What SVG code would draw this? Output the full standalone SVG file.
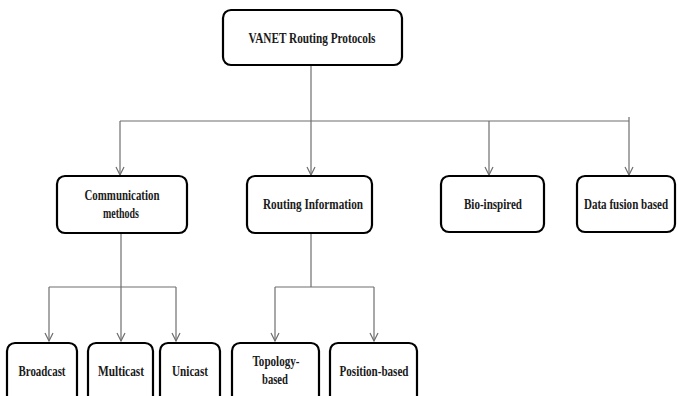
<svg xmlns="http://www.w3.org/2000/svg" width="678" height="396" viewBox="0 0 678 396">
  <style>
    .box { fill: #ffffff; stroke: #000000; stroke-width: 2.2; }
    .lbl { font-family: "Liberation Serif", "Times New Roman", serif; font-weight: bold; font-size: 14px; fill: #1a1a1a; text-anchor: middle; }
    .wire { fill: none; stroke: #6e6e6e; stroke-width: 1.2; }
  </style>
  <defs>
    <marker id="arrow" viewBox="0 0 10 10" refX="9" refY="5" markerWidth="10" markerHeight="10" markerUnits="userSpaceOnUse" orient="auto">
      <path d="M1,1 L9,5 L1,9" fill="none" stroke="#6e6e6e" stroke-width="1.2"/>
    </marker>
  </defs>
  <rect width="678" height="396" fill="#ffffff"/>

  <g id="connectors">
    <!-- root to first level -->
    <path class="wire" d="M120,121 H629"/>
    <path class="wire" d="M629,117 V121"/>
    <path class="wire" d="M311,65 V175" marker-end="url(#arrow)"/>
    <path class="wire" d="M120,121 V175" marker-end="url(#arrow)"/>
    <path class="wire" d="M489,121 V175" marker-end="url(#arrow)"/>
    <path class="wire" d="M629,121 V175" marker-end="url(#arrow)"/>
    <!-- communication methods branch -->
    <path class="wire" d="M49,287 H176"/>
    <path class="wire" d="M121,233 V341" marker-end="url(#arrow)"/>
    <path class="wire" d="M49,287 V341" marker-end="url(#arrow)"/>
    <path class="wire" d="M176,287 V341" marker-end="url(#arrow)"/>
    <!-- routing information branch -->
    <path class="wire" d="M311,233 V287"/>
    <path class="wire" d="M275,287 H374"/>
    <path class="wire" d="M275,287 V341" marker-end="url(#arrow)"/>
    <path class="wire" d="M374,287 V341" marker-end="url(#arrow)"/>
  </g>

  <g id="root">
    <rect class="box" x="223" y="10" width="179" height="55" rx="8"/>
    <text class="lbl" x="312" y="43" textLength="127" lengthAdjust="spacingAndGlyphs">VANET Routing Protocols</text>
  </g>

  <g id="communication">
    <rect class="box" x="57" y="176" width="130" height="57" rx="8"/>
    <text class="lbl" x="122" y="200" textLength="75" lengthAdjust="spacingAndGlyphs">Communication</text>
    <text class="lbl" x="121" y="218" textLength="36" lengthAdjust="spacingAndGlyphs">methods</text>
  </g>

  <g id="routing-information">
    <rect class="box" x="247" y="176" width="125" height="57" rx="8"/>
    <text class="lbl" x="313" y="209" textLength="100" lengthAdjust="spacingAndGlyphs">Routing Information</text>
  </g>

  <g id="bio-inspired">
    <rect class="box" x="441" y="176" width="103" height="56" rx="8"/>
    <text class="lbl" x="493" y="209" textLength="58" lengthAdjust="spacingAndGlyphs">Bio-inspired</text>
  </g>

  <g id="data-fusion">
    <rect class="box" x="577" y="176" width="98" height="56" rx="8"/>
    <!-- narrowed with a horizontal scale so the label sits inside the box -->
    <text class="lbl" x="0" y="0" transform="translate(626,209) scale(0.79,1)">Data fusion based</text>
  </g>

  <g id="broadcast">
    <rect class="box" x="7" y="343" width="70" height="62" rx="8"/>
    <text class="lbl" x="42" y="376" textLength="47" lengthAdjust="spacingAndGlyphs">Broadcast</text>
  </g>

  <g id="multicast">
    <rect class="box" x="88" y="343" width="65" height="62" rx="8"/>
    <text class="lbl" x="121" y="376" textLength="46" lengthAdjust="spacingAndGlyphs">Multicast</text>
  </g>

  <g id="unicast">
    <rect class="box" x="160" y="343" width="60" height="62" rx="8"/>
    <text class="lbl" x="190" y="376" textLength="36" lengthAdjust="spacingAndGlyphs">Unicast</text>
  </g>

  <g id="topology-based">
    <rect class="box" x="232" y="343" width="87" height="62" rx="8"/>
    <text class="lbl" x="276" y="366" textLength="47" lengthAdjust="spacingAndGlyphs">Topology-</text>
    <text class="lbl" x="275" y="384" textLength="26" lengthAdjust="spacingAndGlyphs">based</text>
  </g>

  <g id="position-based">
    <rect class="box" x="330" y="343" width="87" height="62" rx="8"/>
    <text class="lbl" x="374" y="376" textLength="69" lengthAdjust="spacingAndGlyphs">Position-based</text>
  </g>
</svg>
